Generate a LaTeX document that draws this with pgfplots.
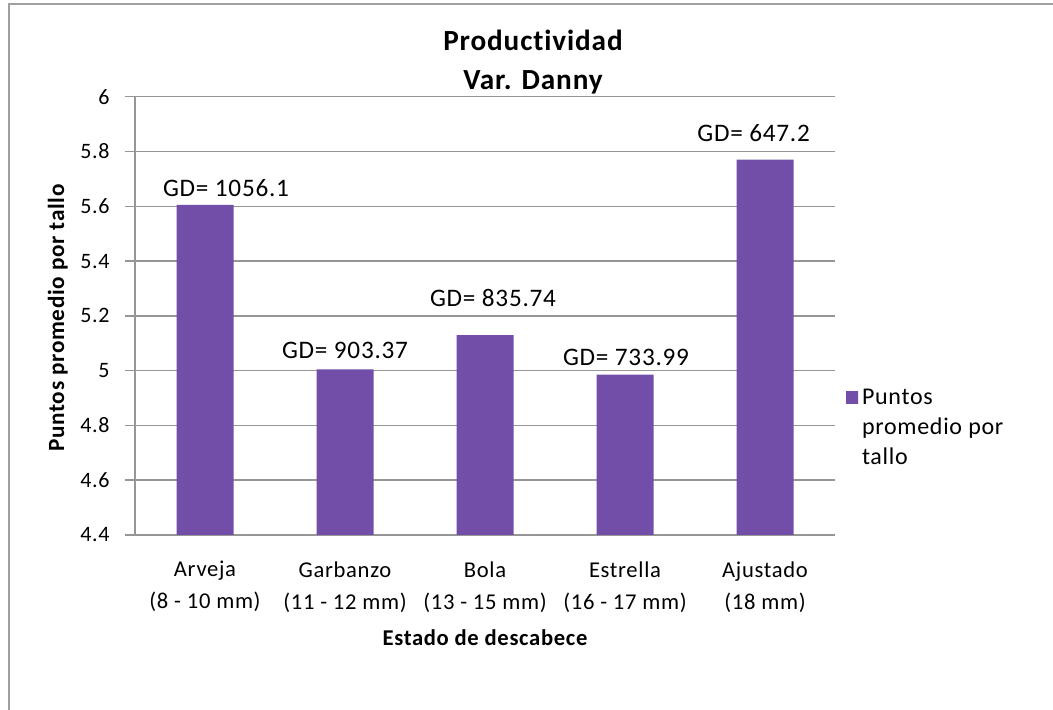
\documentclass[border=0pt]{standalone}
\usepackage{fontspec}
\setmainfont{Carlito}[LetterSpace=3, Ligatures=NoCommon]
\usepackage{pgfplots}
\pgfplotsset{compat=1.18}
\definecolor{barmid}{RGB}{138,100,194}
\definecolor{baredge}{RGB}{114,78,168}
\definecolor{gridgray}{RGB}{150,150,150}
\definecolor{framegray}{RGB}{160,160,160}

\begin{document}
\begin{tikzpicture}[x=1pt,y=1pt]
\path[use as bounding box] (0,0) rectangle (526.5,355);
% chart area border
\draw[framegray, line width=1pt] (4.25,0) -- (4.25,353) -- (526.5,353);

\begin{axis}[
  at={(67.5pt,87.5pt)}, anchor=south west,
  width=350pt, height=219.15pt, scale only axis,
  ymin=4.4, ymax=6,
  ytick={4.4,4.6,4.8,5,5.2,5.4,5.6,5.8,6},
  xmin=-0.5, xmax=4.5,
  xtick={0,1,2,3,4},
  xticklabels={{Arveja\\(8 - 10 mm)},{Garbanzo\\(11 - 12 mm)},{Bola\\(13 - 15 mm)},{Estrella\\(16 - 17 mm)},{Ajustado\\(18 mm)}},
  enlargelimits=false,
  axis x line*=bottom, axis y line*=left,
  axis line style={-, draw=gridgray, line width=0.75pt},
  ymajorgrids, grid style={draw=gridgray, line width=0.75pt},
  tick align=outside, major tick length=5pt,
  xtick style={draw=none},
  ytick style={draw=gridgray, line width=0.75pt},
  /pgf/number format/assume math mode=true,
  yticklabel style={font=\fontsize{11}{13}\selectfont, anchor=east, inner sep=0pt, xshift=-7.5pt},
  xticklabel style={font=\fontsize{11.3}{16}\selectfont, align=center, anchor=north, inner sep=0pt, yshift=-8pt},
  legend style={at={(rel axis cs:1.0157,0.342)}, anchor=north west, draw=none, fill=none,
    font=\fontsize{12}{15}\selectfont, inner sep=0pt, outer sep=0pt,
    cells={anchor=west, align=left}},
  legend image code/.code={\fill[barmid] (0pt,12.5pt) rectangle (6pt,18.5pt);},
]
% bars shaded darker at the sides
\addplot[ybar, bar width=28.5pt, draw=none,
  left color=baredge, middle color=barmid, right color=baredge]
  coordinates {(0,5.605) (1,5.005) (2,5.13) (3,4.985) (4,5.77)};
\addlegendentry{Puntos\\promedio por\\tallo}

% GD values written above the bars
\node[font=\fontsize{12.6}{15}\selectfont] at (axis cs:0.15,5.667) {GD= 1056.1};
\node[font=\fontsize{12.6}{15}\selectfont] at (axis cs:1.0,5.075) {GD= 903.37};
\node[font=\fontsize{12.6}{15}\selectfont] at (axis cs:2.057,5.265) {GD= 835.74};
\node[font=\fontsize{12.6}{15}\selectfont] at (axis cs:3.007,5.05) {GD= 733.99};
\node[font=\fontsize{12.6}{15}\selectfont] at (axis cs:3.919,5.8675) {GD= 647.2};
\end{axis}

% titles
\node[font=\bfseries\fontsize{14.6}{17}\selectfont, anchor=base] at (266.5,329.5) {Productividad};
\node[font=\bfseries\fontsize{14.6}{17}\selectfont, anchor=base] at (266.5,310) {Var. Danny};
\node[font=\bfseries\fontsize{11.3}{13}\selectfont, anchor=base] at (242.5,32) {Estado de descabece};
\node[font=\bfseries\fontsize{11.6}{13}\selectfont, anchor=base, rotate=90] at (32,196) {Puntos promedio por tallo};
\end{tikzpicture}
\end{document}
